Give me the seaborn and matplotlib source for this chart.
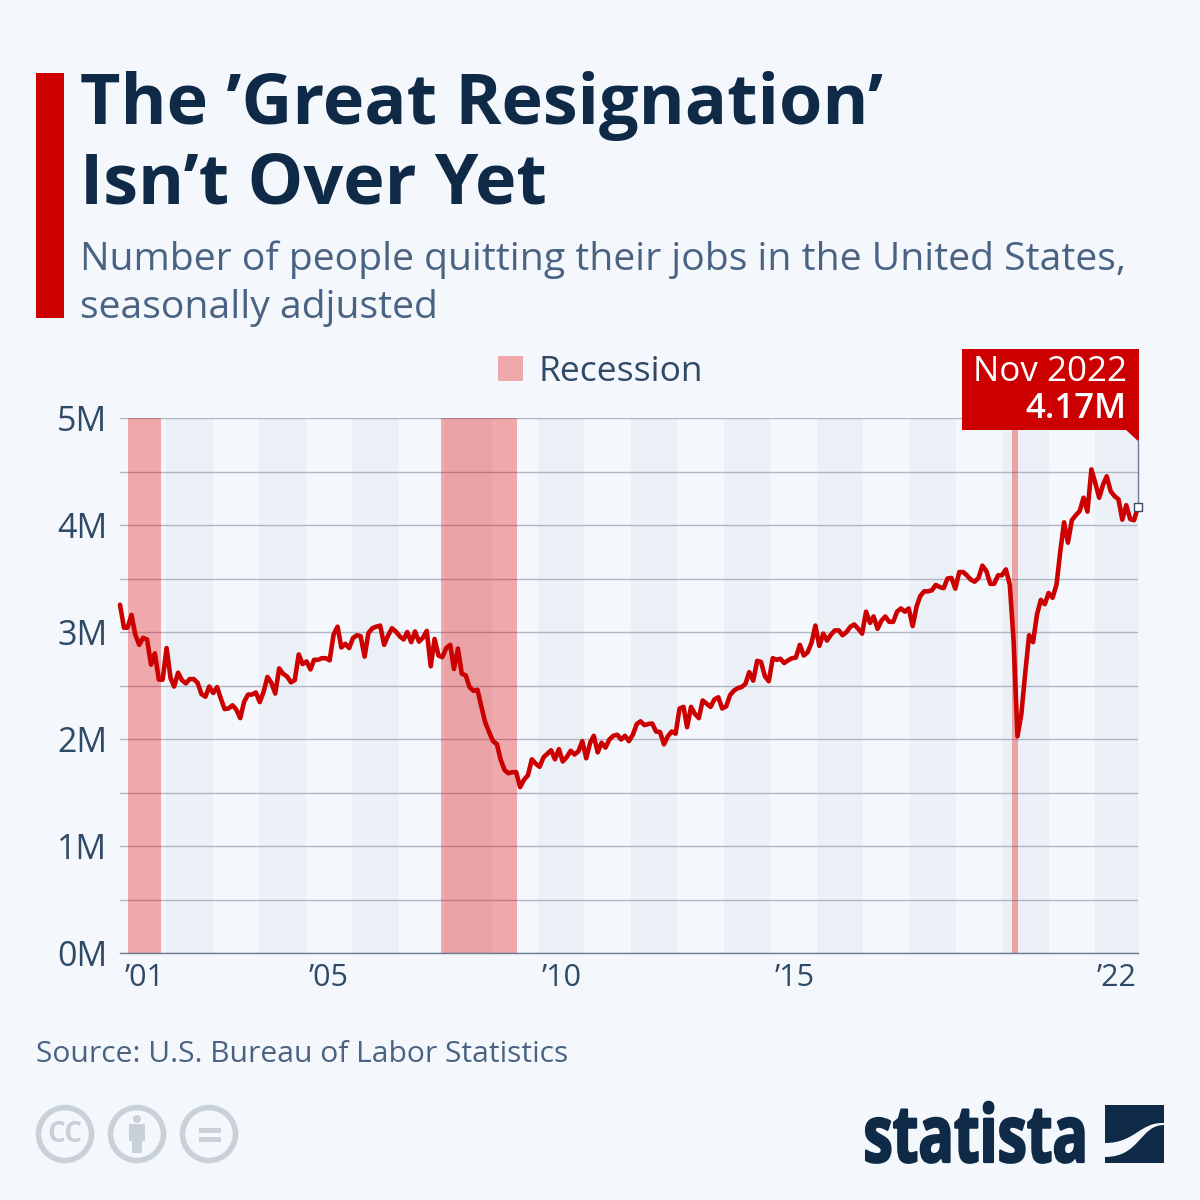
import pandas as pd
import numpy as np
import matplotlib.pyplot as plt
import seaborn as sns
from matplotlib.path import Path
from matplotlib.patches import Circle, PathPatch, Rectangle, Polygon
from matplotlib.patheffects import AbstractPathEffect
from matplotlib.transforms import Affine2D

# monthly quits, millions, Jan 2001 - Nov 2022
quits_2001_2008 = [
    3.255, 3.04, 3.04, 3.16, 2.975, 2.88, 2.945, 2.93, 2.695, 2.80, 2.555, 2.555,
    2.85, 2.57, 2.49, 2.62, 2.55, 2.52, 2.56, 2.56, 2.525, 2.42, 2.395, 2.49,
    2.43, 2.485, 2.38, 2.28, 2.285, 2.315, 2.275, 2.195, 2.35, 2.415, 2.415, 2.435,
    2.345, 2.445, 2.58, 2.525, 2.425, 2.66, 2.61, 2.585, 2.53, 2.55, 2.79, 2.70,
    2.725, 2.65, 2.74, 2.74, 2.755, 2.755, 2.735, 2.975, 3.05, 2.855, 2.89, 2.85,
    2.945, 2.97, 2.96, 2.77, 2.99, 3.035, 3.05, 3.06, 2.88, 2.965, 3.035, 3.005,
    2.96, 2.93, 3.0, 2.905, 3.005, 2.91, 2.945, 3.01, 2.68, 2.935, 2.78, 2.765,
    2.85, 2.88, 2.655, 2.845, 2.61, 2.595, 2.485, 2.45, 2.46, 2.305, 2.155, 2.065,
]
quits_2009_2016 = [
    1.98, 1.95, 1.81, 1.71, 1.68, 1.69, 1.69, 1.55, 1.62, 1.66, 1.81, 1.77,
    1.74, 1.83, 1.86, 1.895, 1.81, 1.905, 1.79, 1.83, 1.89, 1.855, 1.885, 1.98,
    1.82, 1.965, 2.03, 1.875, 1.965, 1.92, 1.995, 2.03, 2.04, 1.995, 2.03, 1.98,
    2.04, 2.14, 2.165, 2.13, 2.14, 2.145, 2.07, 2.065, 1.95, 2.025, 2.07, 2.05,
    2.285, 2.30, 2.11, 2.30, 2.235, 2.195, 2.36, 2.33, 2.30, 2.37, 2.39, 2.285,
    2.305, 2.41, 2.45, 2.475, 2.485, 2.515, 2.625, 2.545, 2.73, 2.72, 2.585, 2.54,
    2.755, 2.74, 2.75, 2.71, 2.735, 2.755, 2.76, 2.88, 2.78, 2.81, 2.90, 3.06,
    2.87, 2.985, 2.92, 2.975, 3.015, 3.015, 2.97, 3.0, 3.05, 3.07, 3.03, 2.985,
]
quits_2017_2022 = [
    3.19, 3.085, 3.145, 3.03, 3.105, 3.145, 3.095, 3.095, 3.19, 3.22, 3.19, 3.22,
    3.055, 3.24, 3.335, 3.38, 3.38, 3.39, 3.44, 3.42, 3.41, 3.50, 3.505, 3.405,
    3.56, 3.56, 3.53, 3.49, 3.47, 3.505, 3.62, 3.57, 3.45, 3.45, 3.53, 3.53,
    3.585, 3.44, 2.93, 2.025, 2.23, 2.62, 2.97, 2.905, 3.165, 3.30, 3.26, 3.365,
    3.32, 3.445, 3.74, 4.025, 3.835, 4.045, 4.09, 4.13, 4.255, 4.125, 4.52, 4.395,
    4.255, 4.38, 4.455, 4.315, 4.27, 4.24, 4.05, 4.185, 4.055, 4.045, 4.17,
]
recession_start = ["2001-03-01", "2007-11-20", "2020-02-20"]
recession_end = ["2001-11-18", "2009-07-05", "2020-04-07"]
band_years = [2002, 2004, 2006, 2008, 2010, 2012, 2014, 2016, 2018, 2020, 2022]
year_tick_dates = ["2001-07-15", "2005-06-25", "2010-06-25", "2015-06-25", "2022-05-15"]
year_tick_labels = ["’01", "’05", "’10", "’15", "’22"]
y_ticks = [0, 1, 2, 3, 4, 5]
y_tick_labels = ["0M", "1M", "2M", "3M", "4M", "5M"]
y_minor_ticks = [0.5, 1.5, 2.5, 3.5, 4.5]

bg = "#f4f8fc"
red = "#cc0000"
navy = "#0f2a47"
slate = "#4a6382"
tick_col = "#2f4a66"


class Squeeze(AbstractPathEffect):
    # narrows text around a fixed x pixel, the logo font is condensed
    def __init__(self, x0, sx, lw):
        super().__init__()
        self.x0, self.sx, self.lw = x0, sx, lw

    def draw_path(self, renderer, gc, tpath, affine, rgbFace=None):
        squeezed = affine + Affine2D().translate(-self.x0, 0).scale(self.sx, 1).translate(self.x0, 0)
        gc0 = renderer.new_gc()
        gc0.copy_properties(gc)
        gc0.set_linewidth(self.lw)
        gc0.set_foreground(rgbFace)
        renderer.draw_path(gc0, tpath, squeezed, rgbFace)
        gc0.restore()


def band_date(yr):
    # the stripes run a touch tighter than the calendar
    return pd.Timestamp(f"{yr}-01-01") - pd.Timedelta(days=1.41 * (yr - 2001))


sns.set_theme(style="white")
plt.rcParams["font.family"] = ["Open Sans", "DejaVu Sans"]

df = pd.DataFrame({
    "date": pd.date_range("2001-01-01", periods=263, freq="MS"),
    "quits": quits_2001_2008 + quits_2009_2016 + quits_2017_2022,
})

fig = plt.figure(figsize=(12, 12), dpi=100, facecolor=bg)
ax = fig.add_axes([120 / 1200, 1 - 953 / 1200, (1138 - 120) / 1200, (953 - 418) / 1200])
ax.set_facecolor(bg)

for yr in band_years:
    ax.axvspan(band_date(yr), band_date(yr + 1), facecolor="#ebf0f6", edgecolor="none", zorder=0)
rec_patch = None
for a, b in zip(recession_start, recession_end):
    rec_patch = ax.axvspan(pd.Timestamp(a), pd.Timestamp(b), facecolor="#e60000", alpha=0.32,
                           edgecolor="none", zorder=1, label="Recession")

sns.lineplot(data=df, x="date", y="quits", ax=ax, color=red, linewidth=3.3, zorder=3,
             legend=False, solid_joinstyle="round", clip_on=False)

ax.set_xlim(df["date"].iloc[0], df["date"].iloc[-1])
ax.set_ylim(0, 5)
ax.set_xlabel("")
ax.set_ylabel("")
ax.set_yticks(y_ticks)
ax.set_yticklabels(y_tick_labels, fontsize=24.5, color=tick_col)
ax.set_yticks(y_minor_ticks, minor=True)
ax.set_xticks(pd.to_datetime(year_tick_dates))
ax.set_xticklabels(year_tick_labels, fontsize=22, color=tick_col)
ax.tick_params(axis="y", which="both", length=0, pad=9)
ax.tick_params(axis="x", length=0, pad=7)
ax.set_axisbelow(True)
ax.grid(axis="y", which="both", color="#aeb6c4", linewidth=1.0)
ax.grid(axis="x", visible=False)
for side in ["top", "left", "right"]:
    ax.spines[side].set_visible(False)
ax.spines["bottom"].set_color("#6f7d92")
ax.spines["bottom"].set_linewidth(1.0)

# last point marker
ax.plot(df["date"].iloc[-1], df["quits"].iloc[-1], marker="s", markersize=5.5, mfc="white",
        mec="#3a4a60", mew=1.0, zorder=5, clip_on=False)

ax.legend(handles=[rec_patch], loc="center", bbox_to_anchor=(0.472, 1.086), frameon=False,
          fontsize=25.5, handlelength=0.7, handleheight=0.7, handletextpad=0.42,
          labelcolor=tick_col)

# overlay in pixel coords for header, callout and logos
ov = fig.add_axes([0, 0, 1, 1], zorder=10)
ov.set_xlim(0, 1200)
ov.set_ylim(1200, 0)
ov.axis("off")
ov.patch.set_alpha(0)

ov.add_patch(Rectangle((36, 73), 28, 245, facecolor=red, edgecolor="none"))
ov.text(80, 124, "The ’Great Resignation’", fontsize=50.5, fontweight="bold", color=navy, va="baseline")
ov.text(80, 204, "Isn’t Over Yet", fontsize=50.5, fontweight="bold", color=navy, va="baseline")
ov.text(80, 270, "Number of people quitting their jobs in the United States,", fontsize=28.2,
        color=slate, va="baseline")
ov.text(80, 318, "seasonally adjusted", fontsize=28.2, color=slate, va="baseline")

# callout
ov.plot([1138, 1138], [440, 502], color="#6f7d92", linewidth=1.0)
ov.add_patch(Rectangle((962, 349), 177, 81, facecolor=red, edgecolor="none"))
ov.add_patch(Polygon([(1125, 429), (1139, 429), (1139, 442)], facecolor=red, edgecolor="none"))
ov.text(1127, 381, "Nov 2022", fontsize=25.2, color="white", ha="right", va="baseline")
ov.text(1127, 418, "4.17M", fontsize=25, fontweight=600, color="white", ha="right", va="baseline")

ov.text(36, 1062, "Source: U.S. Bureau of Labor Statistics", fontsize=21.6, color=slate, va="baseline")

# licence icons
icon = "#c8d0d8"
for cx in [65, 137, 209]:
    ov.add_patch(Circle((cx, 1134), 26.5, facecolor="none", edgecolor=icon, linewidth=4))
ov.text(65, 1134, "CC", fontsize=20, fontweight="bold", color=icon, ha="center", va="center")
ov.add_patch(Circle((137, 1119), 4, facecolor=icon, edgecolor="none"))
ov.add_patch(Rectangle((129, 1124), 16, 17, facecolor=icon, edgecolor="none"))
ov.add_patch(Rectangle((132, 1140), 10, 13, facecolor=icon, edgecolor="none"))
ov.add_patch(Rectangle((199, 1128), 22, 5, facecolor=icon, edgecolor="none"))
ov.add_patch(Rectangle((199, 1137), 22, 5, facecolor=icon, edgecolor="none"))

# statista logo
ov.text(1088, 1162, "statista", fontsize=57, fontweight="bold", color=navy, ha="right", va="baseline",
        path_effects=[Squeeze(1088, 0.745, 1.6)])
upper = Path([(1105, 1105), (1164, 1105), (1164, 1123), (1140, 1122), (1135, 1143), (1105, 1143), (1105, 1105)],
             [Path.MOVETO, Path.LINETO, Path.LINETO, Path.CURVE4, Path.CURVE4, Path.CURVE4, Path.CLOSEPOLY])
lower = Path([(1105, 1157), (1140, 1157), (1140, 1125), (1164, 1125), (1164, 1163), (1105, 1163), (1105, 1157)],
             [Path.MOVETO, Path.CURVE4, Path.CURVE4, Path.CURVE4, Path.LINETO, Path.LINETO, Path.CLOSEPOLY])
ov.add_patch(PathPatch(upper, facecolor=navy, edgecolor="none"))
ov.add_patch(PathPatch(lower, facecolor=navy, edgecolor="none"))

plt.savefig("out.png", dpi=100, facecolor=bg)
